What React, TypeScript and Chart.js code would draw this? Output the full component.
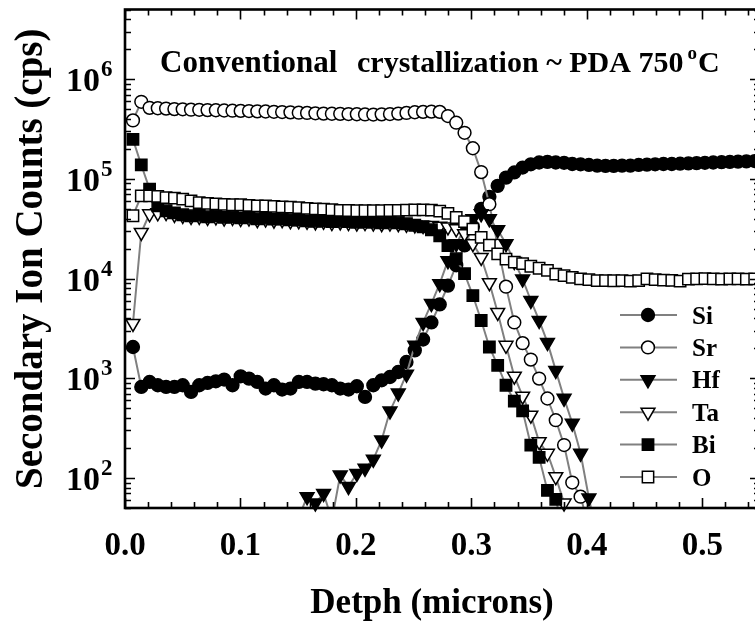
import React, { useEffect, useRef } from "react";
import { Chart, registerables } from "chart.js";

Chart.register(...registerables);

// ---------- data (depth in microns, counts in cps) ----------
const DEPTH = [
  0.0069, 0.0141, 0.0213, 0.0284, 0.0356, 0.0428, 0.05, 0.0572, 0.0643, 0.0715,
  0.0787, 0.0859, 0.0931, 0.1002, 0.1074, 0.1146, 0.1218, 0.129, 0.1361, 0.1433,
  0.1505, 0.1577, 0.1649, 0.172, 0.1792, 0.1864, 0.1936, 0.2008, 0.2079, 0.2151,
  0.2223, 0.2295, 0.2367, 0.2438, 0.251, 0.2582, 0.2654, 0.2726, 0.2797, 0.2869,
  0.2941, 0.3013, 0.3085, 0.3156, 0.3228, 0.33, 0.3372, 0.3444, 0.3515, 0.3587,
  0.3659, 0.3731, 0.3803, 0.3874, 0.3946, 0.4018, 0.409, 0.4162, 0.4233, 0.4305,
  0.4377, 0.4449, 0.4521, 0.4592, 0.4664, 0.4736, 0.4808, 0.488, 0.4951, 0.5023,
  0.5095, 0.5167, 0.5239, 0.531, 0.5382, 0.5454, 0.5526,
];

const SI = [
  2060, 819, 919, 851, 819, 819, 851, 730, 851, 898,
  933, 971, 851, 1047, 993, 919, 789, 851, 771, 789,
  919, 919, 885, 871, 851, 789, 771, 832, 650, 851,
  955, 1030, 1156, 1456, 1905, 2450, 3630, 5500, 8510, 13600,
  21500, 33100, 50100, 66100, 85100, 103000, 116000, 130000, 140000, 146000,
  148000, 146000, 145000, 141000, 140000, 138000, 136000, 135000, 135000, 136000,
  136000, 138000, 139000, 140000, 141000, 141000, 142000, 143000, 144000, 145000,
  146000, 147000, 148000, 149000, 150000, 151000, 151000,
];

const SR = [
  386000, 593000, 516000, 511000, 507000, 501000, 499000, 495000, 493000, 490000,
  488000, 485000, 483000, 481000, 479000, 476000, 474000, 471000, 468000, 465000,
  461000, 459000, 455000, 452000, 450000, 449000, 447000, 445000, 443000, 442000,
  444000, 447000, 452000, 459000, 466000, 470000, 473000, 470000, 427000, 366000,
  290000, 203000, 117000, 55800, 21400, 8300, 3630, 2250, 1540, 993,
  627, 380, 214, 90, 65, 32,
];

const HF = [
  null, null, null, null, null, null, null, null, null, null,
  null, null, null, null, null, null, null, null, null, null,
  40, 65, 56, 70, 38, 107, 82, 111, 125, 154,
  240, 470, 710, 1100, 2140, 3630, 5620, 8900, 15100, 22400,
  31600, 39800, 44700, 39800, 30900, 22400, 14800, 9900, 6030, 3800,
  2290, 1200, 630, 355, 177, 63, 25,
];

const TA = [
  3550, 29000, 44700, 45700, 46000, 44000, 43000, 42000, 42000, 41000,
  41500, 40500, 41000, 40000, 40500, 39000, 39500, 38500, 39000, 38000,
  38000, 37500, 37000, 37500, 36500, 37000, 36500, 36000, 36500, 36000,
  35500, 36000, 35500, 35000, 34500, 34000, 34000, 33500, 33000, 31600,
  28200, 22400, 16300, 9100, 4570, 2140, 1050, 661, 427, 231,
  177, 103, 56, 25,
];

const BI = [
  249000, 138000, 78900, 53700, 47900, 45700, 43700, 42700, 43200, 41700,
  42700, 41200, 41700, 40700, 41200, 39800, 40300, 39400, 39800, 38900,
  38500, 38000, 37600, 38000, 37200, 37600, 37200, 36700, 37200, 36700,
  36300, 36700, 36300, 35500, 34300, 33100, 30900, 26900, 21400, 15800,
  11200, 6760, 3800, 2060, 1350, 851, 589, 471, 214, 161,
  75, 61, 28,
];

const OX = [
  42700, 67600, 67600, 66800, 65000, 64100, 62700, 60300, 57900, 56900,
  56200, 55600, 55000, 55000, 54300, 53700, 53500, 53100, 52500, 52100,
  51600, 50700, 50100, 49800, 49000, 48400, 48200, 47900, 47900, 47900,
  48000, 48200, 48400, 48600, 48800, 48800, 48600, 47500, 45000, 41000,
  37200, 31400, 25900, 21700, 17700, 15700, 14600, 14100, 13300, 12700,
  12100, 11100, 10700, 10300, 9930, 9770, 9550, 9550, 9510, 9550,
  9440, 9550, 9930, 9770, 9660, 9590, 9440, 9890, 9930, 10000,
  9930, 9890, 9930, 9930, 9890, 9930, 9930,
];

const SERIES_LABELS = ["Si", "Sr", "Hf", "Ta", "Bi", "O"];
const SERIES_VALUES = [SI, SR, HF, TA, BI, OX];

const X_TICKS = [0, 0.1, 0.2, 0.3, 0.4, 0.5];
const Y_TICKS = [100, 1000, 10000, 100000, 1000000];
const Y_TICK_EXPONENTS = ["2", "3", "4", "5", "6"];

const X_MIN = 0;
const X_MAX = 0.55;
const Y_MIN = 50;
const Y_MAX = 5000000;

const TITLE_LEFT = "Conventional";
const TITLE_RIGHT = "crystallization ~ PDA 750";
const X_TITLE = "Detph (microns)";
const Y_TITLE = "Secondary Ion Counts (cps)";

// ---------- styles ----------
const SERIF = '"Liberation Serif", "Times New Roman", serif';
const LINE_GRAY = "#808080";
type MarkerStyle = { shape: "circle" | "rect" | "triangle"; fill: string; radius: number; rotation: number };
const MARKERS: MarkerStyle[] = [
  { shape: "circle", fill: "#000000", radius: 6.4, rotation: 0 },
  { shape: "circle", fill: "#ffffff", radius: 6.4, rotation: 0 },
  { shape: "triangle", fill: "#000000", radius: 8, rotation: 180 },
  { shape: "triangle", fill: "#ffffff", radius: 8, rotation: 180 },
  { shape: "rect", fill: "#000000", radius: 8, rotation: 0 },
  { shape: "rect", fill: "#ffffff", radius: 8, rotation: 0 },
];
const MARKER_BORDER = 1.5;

function drawMarker(ctx: CanvasRenderingContext2D, m: MarkerStyle, x: number, y: number) {
  const r = m.radius;
  ctx.beginPath();
  if (m.shape === "circle") {
    ctx.arc(x, y, r, 0, Math.PI * 2);
  } else if (m.shape === "rect") {
    const s = r * Math.SQRT1_2;
    ctx.rect(x - s, y - s, 2 * s, 2 * s);
  } else {
    ctx.moveTo(x, y + r);
    ctx.lineTo(x - r * 0.866, y - r * 0.5);
    ctx.lineTo(x + r * 0.866, y - r * 0.5);
    ctx.closePath();
  }
  ctx.fillStyle = m.fill;
  ctx.fill();
  ctx.lineWidth = MARKER_BORDER;
  ctx.strokeStyle = "#000";
  ctx.stroke();
}

const framePlugin = {
  id: "frameAndDecor",
  afterDatasetsDraw(chart: any) {
    const ctx: CanvasRenderingContext2D = chart.ctx;
    const { left, right, top, bottom } = chart.chartArea;
    const xs = chart.scales.x;
    const ys = chart.scales.y;
    ctx.save();
    // ticks
    ctx.strokeStyle = "#000";
    ctx.lineWidth = 1.6;
    ctx.beginPath();
    for (let k = 0; k <= 27; k++) {
      const px = Math.round(xs.getPixelForValue(k * 0.02)) + 0.5;
      const len = k % 5 === 0 ? 10 : 6;
      ctx.moveTo(px, bottom);
      ctx.lineTo(px, bottom - len);
      ctx.moveTo(px, top);
      ctx.lineTo(px, top + len);
    }
    for (let e = 1; e <= 6; e++) {
      for (let m = 1; m <= 9; m++) {
        const v = m * Math.pow(10, e);
        if (v < Y_MIN || v > Y_MAX) continue;
        const py = Math.round(ys.getPixelForValue(v)) + 0.5;
        const len = m === 1 ? 10 : 6;
        ctx.moveTo(left, py);
        ctx.lineTo(left + len, py);
        ctx.moveTo(right, py);
        ctx.lineTo(right - len, py);
      }
    }
    ctx.stroke();
    // frame
    ctx.lineWidth = 2.6;
    ctx.strokeRect(left, top, right - left, bottom - top);

    // y tick labels (10 with superscript exponent)
    ctx.fillStyle = "#000";
    ctx.textBaseline = "alphabetic";
    Y_TICKS.forEach((v, i) => {
      const py = ys.getPixelForValue(v);
      ctx.font = `bold 34px ${SERIF}`;
      ctx.textAlign = "right";
      ctx.fillText("10", 100, py + 12);
      ctx.font = `bold 23px ${SERIF}`;
      ctx.textAlign = "left";
      ctx.fillText(Y_TICK_EXPONENTS[i], 101, py - 3);
    });

    // x axis title
    ctx.font = `bold 35px ${SERIF}`;
    ctx.textAlign = "center";
    ctx.fillText(X_TITLE, 432, 613);

    // title
    ctx.textAlign = "left";
    ctx.font = `bold 31px ${SERIF}`;
    ctx.fillText(TITLE_LEFT, 160, 72);
    ctx.font = `bold 30px ${SERIF}`;
    ctx.fillText(TITLE_RIGHT, 357, 72);
    const w = ctx.measureText(TITLE_RIGHT).width;
    ctx.font = `bold 19px ${SERIF}`;
    ctx.fillText("o", 357 + w + 4, 59);
    const wo = ctx.measureText("o").width;
    ctx.font = `bold 30px ${SERIF}`;
    ctx.fillText("C", 357 + w + 4 + wo + 1, 72);

    // legend
    SERIES_LABELS.forEach((lab, k) => {
      const y = 315 + k * 32.4;
      ctx.strokeStyle = LINE_GRAY;
      ctx.lineWidth = 2;
      ctx.beginPath();
      ctx.moveTo(620, y);
      ctx.lineTo(677, y);
      ctx.stroke();
      drawMarker(ctx, MARKERS[k], 648, y);
      ctx.fillStyle = "#000";
      ctx.font = `bold 25px ${SERIF}`;
      ctx.textAlign = "left";
      ctx.fillText(lab, 692, y + 8.5);
    });
    ctx.restore();
  },
};

function buildDatasets() {
  const out: any[] = [];
  const n = SERIES_LABELS.length;
  SERIES_VALUES.forEach((vals, k) => {
    const pts = vals.map((v, i) => ({ x: DEPTH[i], y: v }));
    const m = MARKERS[k];
    const layer = (n - 1 - k) * 2;
    out.push({
      label: SERIES_LABELS[k] + " line",
      data: pts,
      showLine: true,
      borderColor: LINE_GRAY,
      borderWidth: 2,
      pointRadius: 0,
      spanGaps: false,
      order: layer + 1,
    });
    out.push({
      label: SERIES_LABELS[k],
      data: pts,
      showLine: false,
      pointStyle: m.shape,
      pointRotation: m.rotation,
      pointRadius: (c: any) => (c.raw && c.raw.y != null && c.raw.y >= Y_MIN ? m.radius : 0),
      pointBackgroundColor: m.fill,
      pointBorderColor: "#000",
      pointBorderWidth: MARKER_BORDER,
      clip: { left: 10, top: 10, right: 10, bottom: 10 },
      order: layer,
    });
  });
  return out;
}

export default function App() {
  const ref = useRef<HTMLCanvasElement>(null);
  useEffect(() => {
    const chart = new Chart(ref.current as HTMLCanvasElement, {
      type: "scatter",
      data: { datasets: buildDatasets() },
      options: {
        responsive: false,
        animation: false,
        events: [],
        devicePixelRatio: 1,
        layout: { padding: { left: 0, top: 8, right: 40, bottom: 0 } },
        plugins: { legend: { display: false }, tooltip: { enabled: false } },
        scales: {
          x: {
            type: "linear",
            min: X_MIN,
            max: X_MAX,
            position: "bottom",
            grid: { display: false, drawTicks: false },
            border: { display: false },
            afterBuildTicks: (s: any) => {
              s.ticks = X_TICKS.map((v) => ({ value: v }));
            },
            afterFit: (s: any) => {
              s.height = 116;
            },
            ticks: {
              callback: (v: any) => Number(v).toFixed(1),
              font: { family: SERIF, weight: "bold", size: 33 },
              color: "#000",
              padding: 19,
              maxRotation: 0,
              autoSkip: false,
            },
            title: { display: false },
          },
          y: {
            type: "logarithmic",
            min: Y_MIN,
            max: Y_MAX,
            position: "left",
            grid: { display: false, drawTicks: false },
            border: { display: false },
            ticks: { display: false },
            afterFit: (s: any) => {
              s.width = 125;
            },
            title: {
              display: true,
              text: Y_TITLE,
              font: { family: SERIF, weight: "bold", size: 39 },
              color: "#000",
              padding: { top: 9, bottom: 0 },
            },
          },
        },
      } as any,
      plugins: [framePlugin],
    });
    return () => chart.destroy();
  }, []);
  return (
    <div
      style={{
        position: "fixed",
        left: 0,
        top: 0,
        width: 755,
        height: 624,
        overflow: "hidden",
        background: "#fff",
      }}
    >
      <canvas ref={ref} width={800} height={624} style={{ display: "block" }} />
    </div>
  );
}
